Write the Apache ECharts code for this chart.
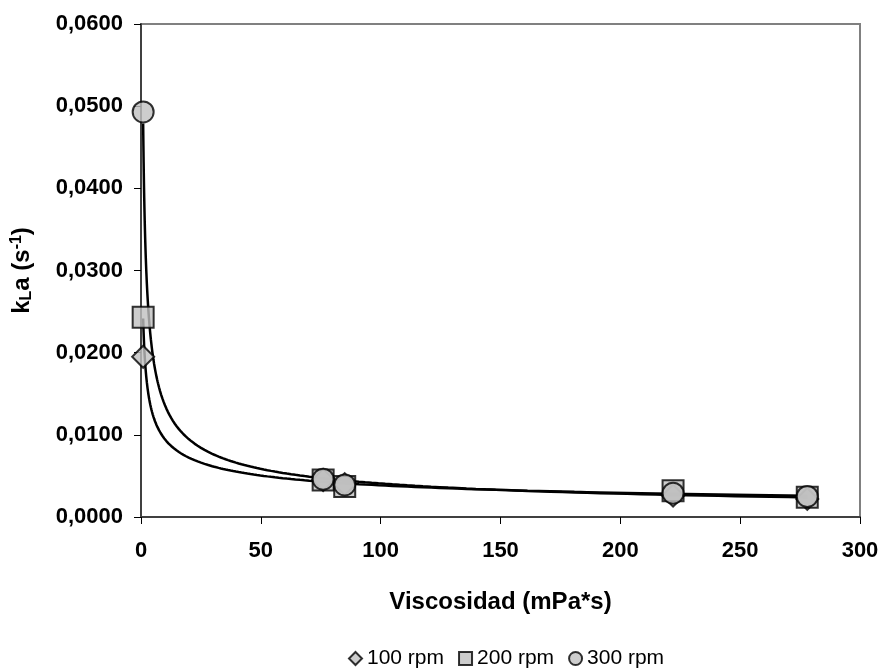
<!DOCTYPE html>
<html><head><meta charset="utf-8">
<script src="https://cdn.jsdelivr.net/npm/echarts@6/dist/echarts.min.js"></script>
<style>html,body{margin:0;padding:0;background:#fff}#c{width:885px;height:670px}</style>
</head><body><div id="c"></div>
<script>
// Data
var viscosity = [0.9, 76, 85, 222, 278];           // mPa*s
var kla100 = [0.0195, 0.0045, 0.0040, 0.0026, 0.0022];
var kla200 = [0.0243, 0.0045, 0.0037, 0.0032, 0.0024];
var kla300 = [0.0493, 0.0046, 0.0039, 0.0029, 0.0025];
var seriesNames = ['100 rpm', '200 rpm', '300 rpm'];
var xTicks = [0, 50, 100, 150, 200, 250, 300];
var yTicks = [0, 0.01, 0.02, 0.03, 0.04, 0.05, 0.06];

function pairs(xs, ys){ return xs.map(function(x,i){ return [x, ys[i]]; }); }
// Power trendline (least squares in log-log space), as a spreadsheet would fit
function powerFit(xs, ys){
  var n = xs.length, lx = xs.map(Math.log), ly = ys.map(Math.log);
  var mx = lx.reduce(function(a,b){return a+b;},0)/n, my = ly.reduce(function(a,b){return a+b;},0)/n;
  var sxy = 0, sxx = 0;
  for (var i=0;i<n;i++){ sxy += (lx[i]-mx)*(ly[i]-my); sxx += (lx[i]-mx)*(lx[i]-mx); }
  var b = sxy/sxx, a = Math.exp(my - b*mx);
  var lo = Math.min.apply(null, xs), hi = Math.max.apply(null, xs), pts = [];
  for (var k=0;k<=200;k++){ var x = lo*Math.pow(hi/lo, k/200); pts.push([x, a*Math.pow(x,b)]); }
  return pts;
}

var markerStyle = {color:'#C0C0C0', borderColor:'#000', borderWidth:2};
var chart = echarts.init(document.getElementById('c'));
chart.setOption({
  animation:false,
  textStyle:{fontFamily:'Liberation Sans, Arial, sans-serif'},
  grid:{left:141, right:25, top:24, bottom:153, show:true, borderColor:'#808080', borderWidth:2,
        containLabel:false, outerBoundsMode:'none'},
  legend:{
    data:seriesNames, top:643, left:343, itemWidth:13, itemHeight:13, itemGap:14,
    itemStyle:{color:'#C0C0C0', borderColor:'#000', borderWidth:2},
    textStyle:{fontSize:21, color:'#000'}
  },
  xAxis:{
    type:'value', min:xTicks[0], max:xTicks[xTicks.length-1], interval:50,
    name:'Viscosidad (mPa*s)', nameLocation:'middle', nameGap:73,
    nameTextStyle:{fontSize:24, fontWeight:'bold', color:'#000'},
    axisLine:{show:true, lineStyle:{color:'#404040', width:2}},
    axisTick:{show:true, inside:false, length:7, lineStyle:{color:'#000'}},
    axisLabel:{fontSize:22, fontWeight:'bold', color:'#000', margin:23},
    splitLine:{show:false}
  },
  yAxis:{
    type:'value', min:yTicks[0], max:yTicks[yTicks.length-1], interval:0.01,
    name:'{b|k}{sub|L}{b|a (s}{sup|-1}{b|)}', nameLocation:'middle', nameGap:104,
    nameTextStyle:{fontSize:24, fontWeight:'bold', color:'#000',
      rich:{
        b:{fontSize:24, fontWeight:'bold', color:'#000', lineHeight:30, verticalAlign:'middle'},
        sub:{fontSize:16, fontWeight:'bold', color:'#000', lineHeight:30, verticalAlign:'bottom', padding:[0,0,2,0]},
        sup:{fontSize:16, fontWeight:'bold', color:'#000', lineHeight:30, verticalAlign:'top', padding:[2,0,0,0]}
      }},
    axisLine:{show:true, lineStyle:{color:'#404040', width:2}},
    axisTick:{show:true, inside:false, length:7, lineStyle:{color:'#000'}},
    axisLabel:{fontSize:22, fontWeight:'bold', color:'#000', margin:18,
      formatter:function(v){ return v.toFixed(4).replace('.', ','); }},
    splitLine:{show:false}
  },
  series:[
    {name:'trend200', type:'line', data:powerFit(viscosity, kla200), showSymbol:false, silent:true,
      lineStyle:{color:'#000', width:2.5}, z:1},
    {name:'trend300', type:'line', data:powerFit(viscosity, kla300), showSymbol:false, silent:true,
      lineStyle:{color:'#000', width:2.5}, z:1},
    {name:seriesNames[0], type:'scatter', data:pairs(viscosity, kla100), symbol:'diamond', symbolSize:[22,22], itemStyle:markerStyle, z:2},
    {name:seriesNames[1], type:'scatter', data:pairs(viscosity, kla200), symbol:'rect', symbolSize:21, itemStyle:markerStyle, z:3},
    {name:seriesNames[2], type:'scatter', data:pairs(viscosity, kla300), symbol:'circle', symbolSize:21, itemStyle:markerStyle, z:4}
  ]
});
</script></body></html>
